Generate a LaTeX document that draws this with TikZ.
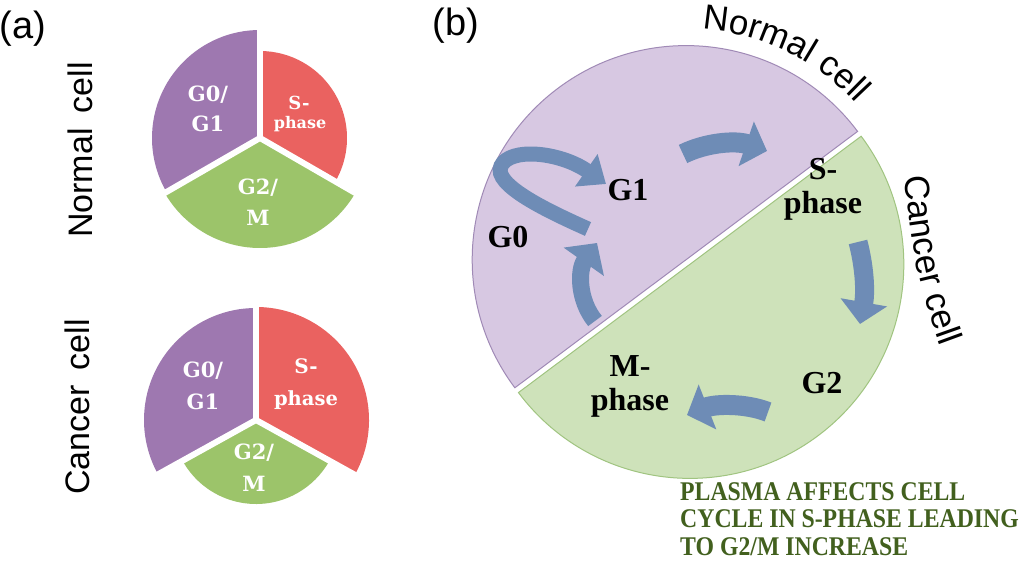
\documentclass[tikz,border=0pt]{standalone}
\usepackage{fontspec}
\setmainfont{Liberation Serif}
\newfontfamily\arialf{Liberation Sans}
\newfontfamily\slabf{DejaVu Serif}
\newfontfamily\notefont[FakeStretch=0.88]{Liberation Serif Bold}
\usetikzlibrary{arrows.meta,decorations.text}
\definecolor{piepurple}{RGB}{158,120,176}
\definecolor{piered}{RGB}{234,98,96}
\definecolor{piegreen}{RGB}{156,196,106}
\definecolor{lightpurple}{RGB}{215,200,226}
\definecolor{lightgreen}{RGB}{206,226,186}
\definecolor{purpleedge}{RGB}{160,138,182}
\definecolor{greenedge}{RGB}{160,196,128}
\definecolor{arrowblue}{RGB}{110,140,182}
\definecolor{notegreen}{RGB}{66,96,30}
\tikzset{
  gapline/.style={white, line width=6pt},
  pielbl/.style={text=white, align=center, inner sep=0pt},
  sidelbl/.style={font=\arialf\fontsize{34}{40}\selectfont, inner sep=0pt},
  panellbl/.style={font=\arialf\fontsize{38}{44}\selectfont, inner sep=0pt},
  phaselbl/.style={font=\bfseries\fontsize{32}{34}\selectfont, align=center, inner sep=0pt},
  blockarrow/.style={draw=arrowblue, line width=#1, line cap=butt},
}
\begin{document}
\begin{tikzpicture}[x=1pt,y=1pt]
\useasboundingbox (0,0) rectangle (1024,561);
\fill[white] (0,0) rectangle (1024,561);

% ---------- (a) ----------
\node[panellbl] (la) at (23,532) {(a)};
\node[sidelbl, rotate=90] (lnormal) at (80,411) {Normal\hspace{0.45em}cell};
\node[sidelbl, rotate=90] (lcancer) at (77,154) {Cancer\hspace{0.45em}cell};

% top pie (normal cell)
\coordinate (pc1) at (260,423);
\fill[piepurple] (pc1) -- ++(90:108) arc[start angle=90, end angle=210, radius=108] -- cycle;
\fill[piered] (pc1) -- ++(-30:87) arc[start angle=-30, end angle=90, radius=87] -- cycle;
\fill[piegreen] (pc1) -- ++(210:110) arc[start angle=210, end angle=330, radius=110] -- cycle;
\draw[gapline] (pc1) -- ++(90:120);
\draw[gapline] (pc1) -- ++(210:120);
\draw[gapline] (pc1) -- ++(330:120);
\node[pielbl, font=\slabf\bfseries\fontsize{21}{30}\selectfont] (t1) at (208,452) {G0/\\G1};
\node[pielbl, font=\slabf\bfseries\fontsize{18}{18}\selectfont] (t2a) at (299,458) {S-};
\node[pielbl, font=\slabf\bfseries\fontsize{16}{18}\selectfont] (t2b) at (300,437) {phase};
\node[pielbl, font=\slabf\bfseries\fontsize{21}{31}\selectfont] (t3) at (258,359) {G2/\\M};

% bottom pie (cancer cell)
\coordinate (pc2) at (256,141);
\fill[piepurple] (pc2) -- ++(90:112) arc[start angle=90, end angle=209, radius=112] -- cycle;
\fill[piered] (pc2) -- ++(-29:113) arc[start angle=-29, end angle=90, radius=113] -- cycle;
\fill[piegreen] (pc2) -- ++(209:84) arc[start angle=209, end angle=331, radius=84] -- cycle;
\draw[gapline] (pc2) -- ++(90:125);
\draw[gapline] (pc2) -- ++(209:125);
\draw[gapline] (pc2) -- ++(331:125);
\node[pielbl, font=\slabf\bfseries\fontsize{21}{32}\selectfont] (b1) at (203,175) {G0/\\G1};
\node[pielbl, font=\slabf\bfseries\fontsize{20}{20}\selectfont] (b2a) at (306,195) {S-};
\node[pielbl, font=\slabf\bfseries\fontsize{19.5}{20}\selectfont] (b2b) at (306,161) {phase};
\node[pielbl, font=\slabf\bfseries\fontsize{21}{32}\selectfont] (b3) at (254,93) {G2/\\M};

% ---------- (b) ----------
\node[panellbl] (lb) at (456,535) {(b)};

\filldraw[fill=lightpurple, draw=purpleedge, line width=1pt]
  (686.2,301.4) ++(36.8:214) arc[start angle=36.8, end angle=216.8, radius=214] -- cycle;
\filldraw[fill=lightgreen, draw=greenedge, line width=1pt]
  (689.8,296.6) ++(216.8:214) arc[start angle=216.8, end angle=396.8, radius=214] -- cycle;

\path[decorate, decoration={text along path, text align=left,
   text={|\arialf\fontsize{35}{40}\selectfont|Normal cell}}]
  (686.2,301.4) ++(86:231) arc[start angle=86, end angle=34, radius=231];
\path[decorate, decoration={text along path, text align=left,
   text={|\arialf\fontsize{35}{40}\selectfont|Cancer cell}}]
  (905,385) .. controls (911,301) and (925,251) .. (952,185);

\node[phaselbl] (g1) at (628,371) {G1};
\node[phaselbl] (g0) at (508,324) {G0};
\node[phaselbl] (sph) at (823,372) {S-\\phase};
\node[phaselbl] (mph) at (630,175) {M-\\phase};
\node[phaselbl] (g2) at (822,178) {G2};

% arrows
\coordinate (a1s) at (588,332);
\coordinate (a1e) at (606,377);
\draw[blockarrow=15pt, -{Triangle[width=38pt,length=24pt]}]
  (a1s) .. controls (550,349) and (492,376) .. (501,395)
        .. controls (510,414) and (560,409) .. (a1e);
\coordinate (a2s) at (683,407);
\coordinate (a2e) at (767,410);
\draw[blockarrow=20pt, -{Triangle[width=46pt,length=22pt]}]
  (a2s) .. controls (705,418) and (735,421) .. (a2e);
\coordinate (a3s) at (858,319);
\coordinate (a3e) at (860,237);
\draw[blockarrow=19pt, -{Triangle[width=46pt,length=22pt]}]
  (a3s) .. controls (864,296) and (866,271) .. (a3e);
\coordinate (a4s) at (768,149);
\coordinate (a4e) at (687,146);
\draw[blockarrow=20pt, -{Triangle[width=47pt,length=22pt]}]
  (a4s) .. controls (745,158) and (715,157) .. (a4e);
\coordinate (a5s) at (595,240);
\coordinate (a5e) at (597,318);
\draw[blockarrow=17pt, -{Triangle[width=48pt,length=23pt]}]
  (a5s) .. controls (578,261) and (578,291) .. (a5e);

% note
\node[anchor=north west, align=left, inner sep=0pt, text=notegreen,
      font=\notefont\fontsize{27}{27.5}\selectfont] (note) at (680,79)
  {PLASMA AFFECTS CELL\\CYCLE IN S-PHASE LEADING\\TO G2/M INCREASE};
\end{tikzpicture}
\end{document}
